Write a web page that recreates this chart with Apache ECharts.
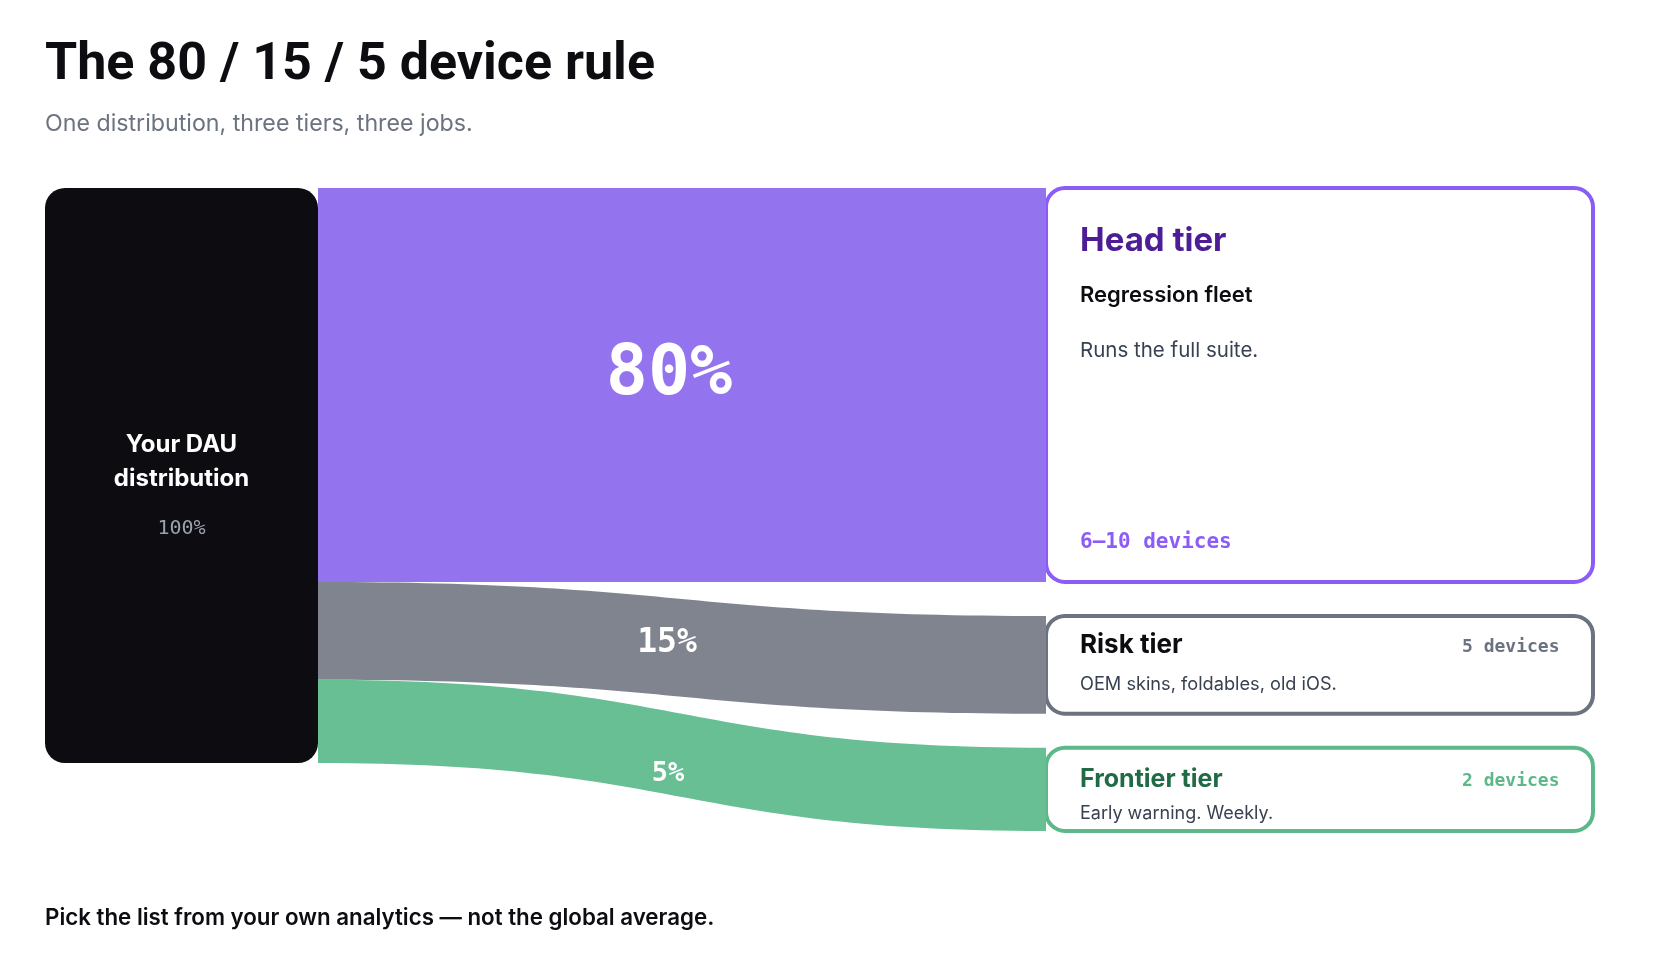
<!DOCTYPE html>
<html>
<head>
<meta charset="utf-8">
<title>The 80 / 15 / 5 device rule</title>
<script src="https://cdn.jsdelivr.net/npm/echarts@6/dist/echarts.min.js"></script>
<style>
  html, body { margin: 0; padding: 0; background: #ffffff; }
  #main { width: 1662px; height: 968px; }
</style>
</head>
<body>
<div id="main"></div>
<script>
// data
var sourceLines = ['Your DAU', 'distribution'];
var sourceShare = '100%';
var tierNames = ['Head tier', 'Risk tier', 'Frontier tier'];
var tierShares = [80, 15, 5];            // share printed on each band
var flowWeights = [68.5, 17, 14.5];      // band thickness as drawn (the picture does not draw them to scale)
var tierJobs = ['Regression fleet', '', ''];
var tierNotes = ['Runs the full suite.', 'OEM skins, foldables, old iOS.', 'Early warning. Weekly.'];
var tierDevices = ['6–10 devices', '5 devices', '2 devices'];

var SANS = 'Inter, "Noto Sans", sans-serif';
var MONO = '"DejaVu Sans Mono", "Liberation Mono", monospace';

var bandColors = ['#9373ee', '#80848f', '#67bf93'];
var cardColors = ['#8b5cf6', '#6b7280', '#5cb888'];
var nameColors = ['#4c1d95', '#0c0c11', '#1f6b46'];
var deviceColors = ['#8b5cf6', '#6b7280', '#5cb888'];
var shareFont = [70, 33, 27];
var shareOffset = [[-13, -9], [-15, -4], [-14, 19]];

var chart = echarts.init(document.getElementById('main'), null, { renderer: 'canvas' });

var nodes = [{
    name: sourceLines.join(' '),
    itemStyle: { color: '#0c0c11', borderRadius: 20, borderWidth: 0 },
    label: {
        show: true,
        position: 'inside',
        offset: [0, 19],
        formatter: sourceLines.map(function (l) { return '{t|' + l + '}'; }).join('\n') + '\n{p|' + sourceShare + '}',
        rich: {
            t: { fontFamily: SANS, fontSize: 24, fontWeight: 700, color: '#ffffff', lineHeight: 34, align: 'center' },
            p: { fontFamily: MONO, fontSize: 20, color: '#9ca3af', lineHeight: 66, align: 'center' }
        }
    }
}];
tierNames.forEach(function (n) {
    nodes.push({ name: n, itemStyle: { color: 'rgba(0,0,0,0)', borderWidth: 0 }, label: { show: false } });
});

var links = tierNames.map(function (n, i) {
    return {
        source: nodes[0].name,
        target: n,
        value: flowWeights[i],
        lineStyle: { color: bandColors[i], opacity: 1 },
        edgeLabel: {
            show: true,
            formatter: tierShares[i] + '%',
            fontSize: shareFont[i],
            offset: shareOffset[i]
        }
    };
});

var option = {
    backgroundColor: '#ffffff',
    animation: false,
    series: [{
        type: 'sankey',
        left: 45,
        top: 188,
        width: 1274,
        height: 643,
        nodeWidth: 273,
        nodeGap: 34,
        layoutIterations: 0,
        draggable: false,
        emphasis: { disabled: true },
        lineStyle: { curveness: 0.5, opacity: 1 },
        edgeLabel: { show: true, color: '#ffffff', fontFamily: MONO, fontWeight: 'bold' },
        data: nodes,
        links: links
    }]
};
chart.setOption(option);

// cards sit on the right-hand nodes, read back from the sankey layout
var cardWidth = 549;
var series = chart.getModel().getSeriesByIndex(0);
var info = series.layoutInfo || { x: 45, y: 188 };
var nodeData = series.getData();

// text rows inside each card: [name y, job y, note y, devices y]
var rows = [
    function (h) { return [53, 107, 163, h - 39]; },
    function (h) { return [29, 0, 69, 31]; },
    function (h) { return [32, 0, 66, 34]; }
];
var nameSize = [33, 26, 25];
var noteSize = [20.5, 18.2, 18];
var deviceSize = [21, 18, 18];

var cards = tierNames.map(function (n, i) {
    var lay = nodeData.getItemLayout(i + 1);
    var h = lay.dy;
    var r = rows[i](h);
    var children = [
        { type: 'rect', shape: { x: 0, y: 0, width: cardWidth - 2, height: h, r: 19 },
          style: { fill: '#ffffff', stroke: cardColors[i], lineWidth: 4 } },
        { type: 'text', x: 34, y: r[0],
          style: { text: n, font: '700 ' + nameSize[i] + 'px ' + SANS, fill: nameColors[i], verticalAlign: 'middle' } },
        { type: 'text', x: 34, y: r[2],
          style: { text: tierNotes[i], font: '400 ' + noteSize[i] + 'px ' + SANS, fill: '#374151', verticalAlign: 'middle' } }
    ];
    if (tierJobs[i]) {
        children.push({ type: 'text', x: 34, y: r[1],
            style: { text: tierJobs[i], font: '600 22px ' + SANS, fill: '#0c0c11', verticalAlign: 'middle' } });
    }
    if (i === 0) {
        children.push({ type: 'text', x: 34, y: r[3],
            style: { text: tierDevices[i], font: '700 ' + deviceSize[i] + 'px ' + MONO, fill: deviceColors[i], verticalAlign: 'middle' } });
    } else {
        children.push({ type: 'text', x: cardWidth - 35.5, y: r[3],
            style: { text: tierDevices[i], font: '700 ' + deviceSize[i] + 'px ' + MONO, fill: deviceColors[i], align: 'right', verticalAlign: 'middle' } });
    }
    return { type: 'group', x: info.x + lay.x, y: info.y + lay.y, children: children };
});

var texts = [
    { type: 'text', x: 45, y: 66,
      style: { text: 'The 80 / 15 / 5 device rule', font: '700 52px Roboto, ' + SANS, fill: '#0c0c11', verticalAlign: 'middle' } },
    { type: 'text', x: 45, y: 124,
      style: { text: 'One distribution, three tiers, three jobs.', font: '400 23.2px ' + SANS, fill: '#6b7280', verticalAlign: 'middle' } },
    { type: 'text', x: 45, y: 918,
      style: { text: 'Pick the list from your own analytics — not the global average.', font: '600 22.3px ' + SANS, fill: '#0c0c11', verticalAlign: 'middle' } }
];

chart.setOption({ graphic: { elements: texts.concat(cards) } });
</script>
</body>
</html>
